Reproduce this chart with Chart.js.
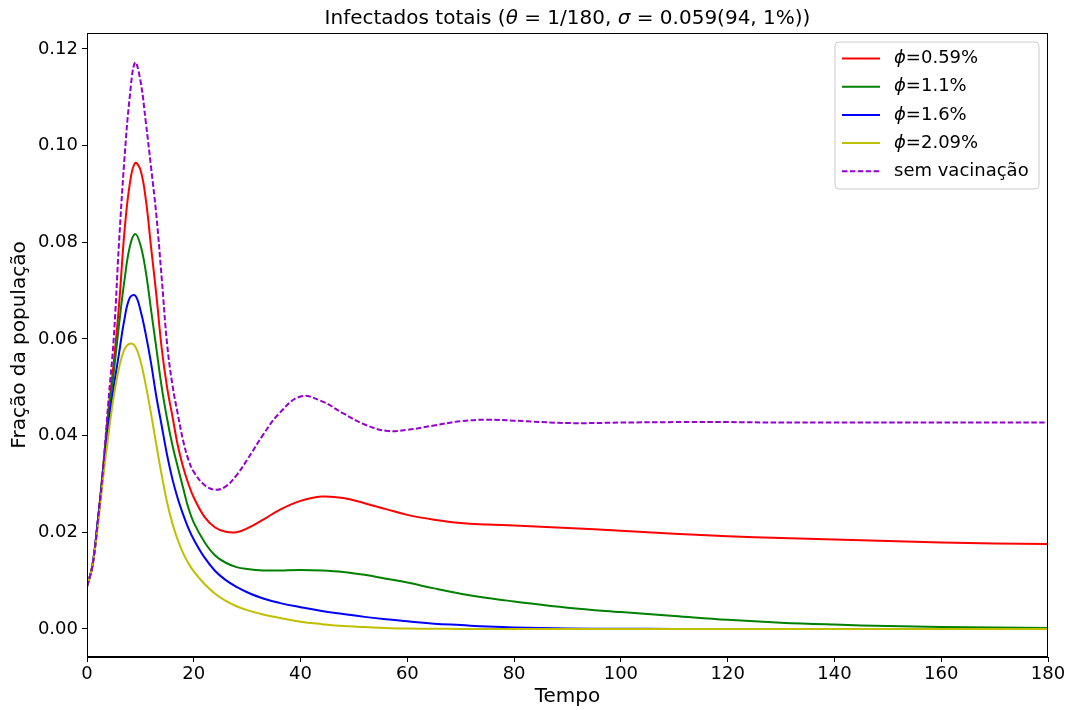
<!DOCTYPE html>
<html><head><meta charset="utf-8">
<script src="https://cdn.jsdelivr.net/npm/chart.js@4.4.0/dist/chart.umd.min.js"></script>
<style>html,body{margin:0;padding:0;background:#fff;}#wrap{width:1072px;height:710px;}</style>
</head><body><div id="wrap"><canvas id="c" width="1072" height="710"></canvas></div>
<script>
// ---- data ----
const tempo = [0,1,2,3,4,5,6,7,8,9,10,11,12,13,14,15,16,17,18,19,20,22,24,26,28,30,33,36,40,44,48,52,56,60,65,70,75,80,90,100,110,120,130,140,150,160,170,180];
const phi059 = [0.0088,0.013,0.022,0.033,0.045,0.055,0.067,0.082,0.092,0.0964,0.095,0.089,0.079,0.069,0.058,0.050,0.044,0.038,0.0335,0.030,0.0272,0.0232,0.0210,0.0201,0.0200,0.0208,0.0226,0.0246,0.0265,0.0274,0.0271,0.0260,0.0248,0.0236,0.0226,0.0219,0.0216,0.0214,0.0209,0.0203,0.0197,0.0192,0.0188,0.0185,0.0182,0.0179,0.0177,0.0176];
const phi11 = [0.0088,0.013,0.022,0.033,0.044,0.053,0.063,0.072,0.079,0.0817,0.0795,0.074,0.066,0.058,0.050,0.0435,0.038,0.0335,0.0292,0.0250,0.0220,0.0180,0.0152,0.0137,0.0128,0.0124,0.0121,0.0121,0.0122,0.0121,0.0118,0.0112,0.0104,0.0096,0.0084,0.0073,0.0064,0.0057,0.0044,0.0035,0.0027,0.0019,0.0013,0.0009,0.0006,0.0004,0.0003,0.0002];
const phi16 = [0.0088,0.013,0.022,0.032,0.042,0.050,0.057,0.064,0.0685,0.0690,0.066,0.061,0.055,0.048,0.042,0.036,0.031,0.027,0.0237,0.0208,0.0185,0.0148,0.0120,0.0101,0.0087,0.0076,0.0063,0.0054,0.0045,0.0037,0.0031,0.0025,0.0020,0.0016,0.0011,0.0008,0.0005,0.0003,0.0001,0.00005,0,0,0,0,0,0,0,0];
const phi209 = [0.0088,0.013,0.021,0.031,0.040,0.048,0.054,0.0578,0.0590,0.0585,0.0555,0.0505,0.0445,0.0380,0.0318,0.0262,0.0218,0.0184,0.0157,0.0136,0.0119,0.0093,0.0073,0.0058,0.0047,0.0039,0.0030,0.0023,0.0015,0.0010,0.0006,0.0004,0.0002,0.0001,0.00005,0,0,0,0,0,0,0,0,0,0,0,0,0];
const semVacinacao = [0.0088,0.013,0.022,0.033,0.047,0.060,0.080,0.097,0.110,0.1172,0.1135,0.105,0.0955,0.0855,0.0725,0.0590,0.0505,0.0445,0.039,0.035,0.0325,0.0298,0.0288,0.0295,0.0318,0.0350,0.0402,0.0446,0.0481,0.0471,0.0446,0.0423,0.0410,0.0412,0.0421,0.0430,0.0433,0.0431,0.0426,0.0427,0.0428,0.0428,0.0427,0.0427,0.0427,0.0427,0.0427,0.0427];
const seriesLabels = ['ϕ=0.59%','ϕ=1.1%','ϕ=1.6%','ϕ=2.09%','sem vacinação'];
const xTicks = [0,20,40,60,80,100,120,140,160,180];
const yTicks = [0,0.02,0.04,0.06,0.08,0.10,0.12];

const FONT = "'DejaVu Sans', sans-serif";
const mk = (arr) => tempo.map((t,i)=>({x:t,y:arr[i]}));

const datasets = [
  {label:seriesLabels[0], data:mk(phi059), borderColor:'#ff0000', order:4},
  {label:seriesLabels[1], data:mk(phi11), borderColor:'#008000', order:3},
  {label:seriesLabels[2], data:mk(phi16), borderColor:'#0000ff', order:2},
  {label:seriesLabels[3], data:mk(phi209), borderColor:'#bfbf00', order:1},
  {label:seriesLabels[4], data:mk(semVacinacao), borderColor:'#9400d3', borderDash:[5.5,2.4], order:0}
].map(d=>Object.assign({borderWidth:2, pointRadius:0, fill:false, tension:0.4, backgroundColor:d.borderColor}, d));

function drawSegments(ctx, segs, cx, cy, size, align){
  let w = 0;
  segs.forEach(s=>{ctx.font=(s.it?'italic ':'')+size+'px '+FONT; s.w=ctx.measureText(s.t).width; w+=s.w;});
  let x = align==='center' ? cx - w/2 : cx;
  ctx.textBaseline='middle'; ctx.textAlign='left'; ctx.fillStyle='#000';
  segs.forEach(s=>{ctx.font=(s.it?'italic ':'')+size+'px '+FONT; ctx.fillText(s.t,x,cy); x+=s.w;});
}

const decor = {
  id:'decor',
  afterDatasetsDraw(chart){
    const {ctx, chartArea:a} = chart;
    ctx.save();
    ctx.strokeStyle='#000'; ctx.lineWidth=1;
    ctx.strokeRect(Math.round(a.left)+0.5, Math.round(a.top)+0.5, Math.round(a.right-a.left)-1, Math.round(a.bottom-a.top)-1);
    // legend
    const bx=835, by=42, bw=204, bh=147, r=4;
    ctx.beginPath();
    ctx.moveTo(bx+r,by); ctx.lineTo(bx+bw-r,by); ctx.quadraticCurveTo(bx+bw,by,bx+bw,by+r);
    ctx.lineTo(bx+bw,by+bh-r); ctx.quadraticCurveTo(bx+bw,by+bh,bx+bw-r,by+bh);
    ctx.lineTo(bx+r,by+bh); ctx.quadraticCurveTo(bx,by+bh,bx,by+bh-r);
    ctx.lineTo(bx,by+r); ctx.quadraticCurveTo(bx,by,bx+r,by); ctx.closePath();
    ctx.fillStyle='rgba(255,255,255,0.8)'; ctx.fill();
    ctx.strokeStyle='#cccccc'; ctx.lineWidth=1; ctx.stroke();
    chart.data.datasets.forEach((d,i)=>{
      const y = 58.5 + i*28.2;
      ctx.beginPath(); ctx.setLineDash(d.borderDash||[]);
      ctx.strokeStyle=d.borderColor; ctx.lineWidth=2;
      ctx.moveTo(842,y); ctx.lineTo(880,y); ctx.stroke(); ctx.setLineDash([]);
      const lab = d.label;
      const segs = lab.startsWith('ϕ') ? [{t:'ϕ',it:true},{t:lab.slice(1),it:false}] : [{t:lab,it:false}];
      drawSegments(ctx, segs, 894, y, 18, 'left');
    });
    // title
    drawSegments(ctx, [
      {t:'Infectados totais (',it:false},{t:'θ',it:true},{t:' = 1/180, ',it:false},
      {t:'σ',it:true},{t:' = 0.059(94, 1%))',it:false}], (a.left+a.right)/2, 19, 20, 'center');
    ctx.restore();
  }
};

new Chart(document.getElementById('c'), {
  type:'line',
  data:{datasets},
  options:{
    responsive:false, animation:false, devicePixelRatio:1,
    layout:{padding:{top:33,right:24,left:0,bottom:0}},
    plugins:{legend:{display:false}, title:{display:false}, tooltip:{enabled:false}},
    scales:{
      x:{type:'linear', min:0, max:180,
        afterFit(s){s.height=53;},
        afterBuildTicks(s){s.ticks=xTicks.map(v=>({value:v}));},
        ticks:{color:'#000', font:{family:FONT,size:18}, padding:2, maxRotation:0, callback:v=>String(v)},
        grid:{drawOnChartArea:false, drawTicks:true, tickLength:5, color:'#000'},
        border:{color:'#000', width:1},
        title:{display:true, text:'Tempo', color:'#000', font:{family:FONT,size:20}, padding:{top:0,bottom:1}}
      },
      y:{type:'linear', min:-0.0058, max:0.1233,
        afterFit(s){s.width=87;},
        afterBuildTicks(s){s.ticks=yTicks.map(v=>({value:v}));},
        ticks:{color:'#000', font:{family:FONT,size:18}, padding:4, callback:v=>v.toFixed(2)},
        grid:{drawOnChartArea:false, drawTicks:true, tickLength:5, color:'#000'},
        border:{color:'#000', width:1},
        title:{display:true, text:'Fração da população', color:'#000', font:{family:FONT,size:20}, padding:{top:8,bottom:0}}
      }
    }
  },
  plugins:[decor]
});
</script></body></html>
